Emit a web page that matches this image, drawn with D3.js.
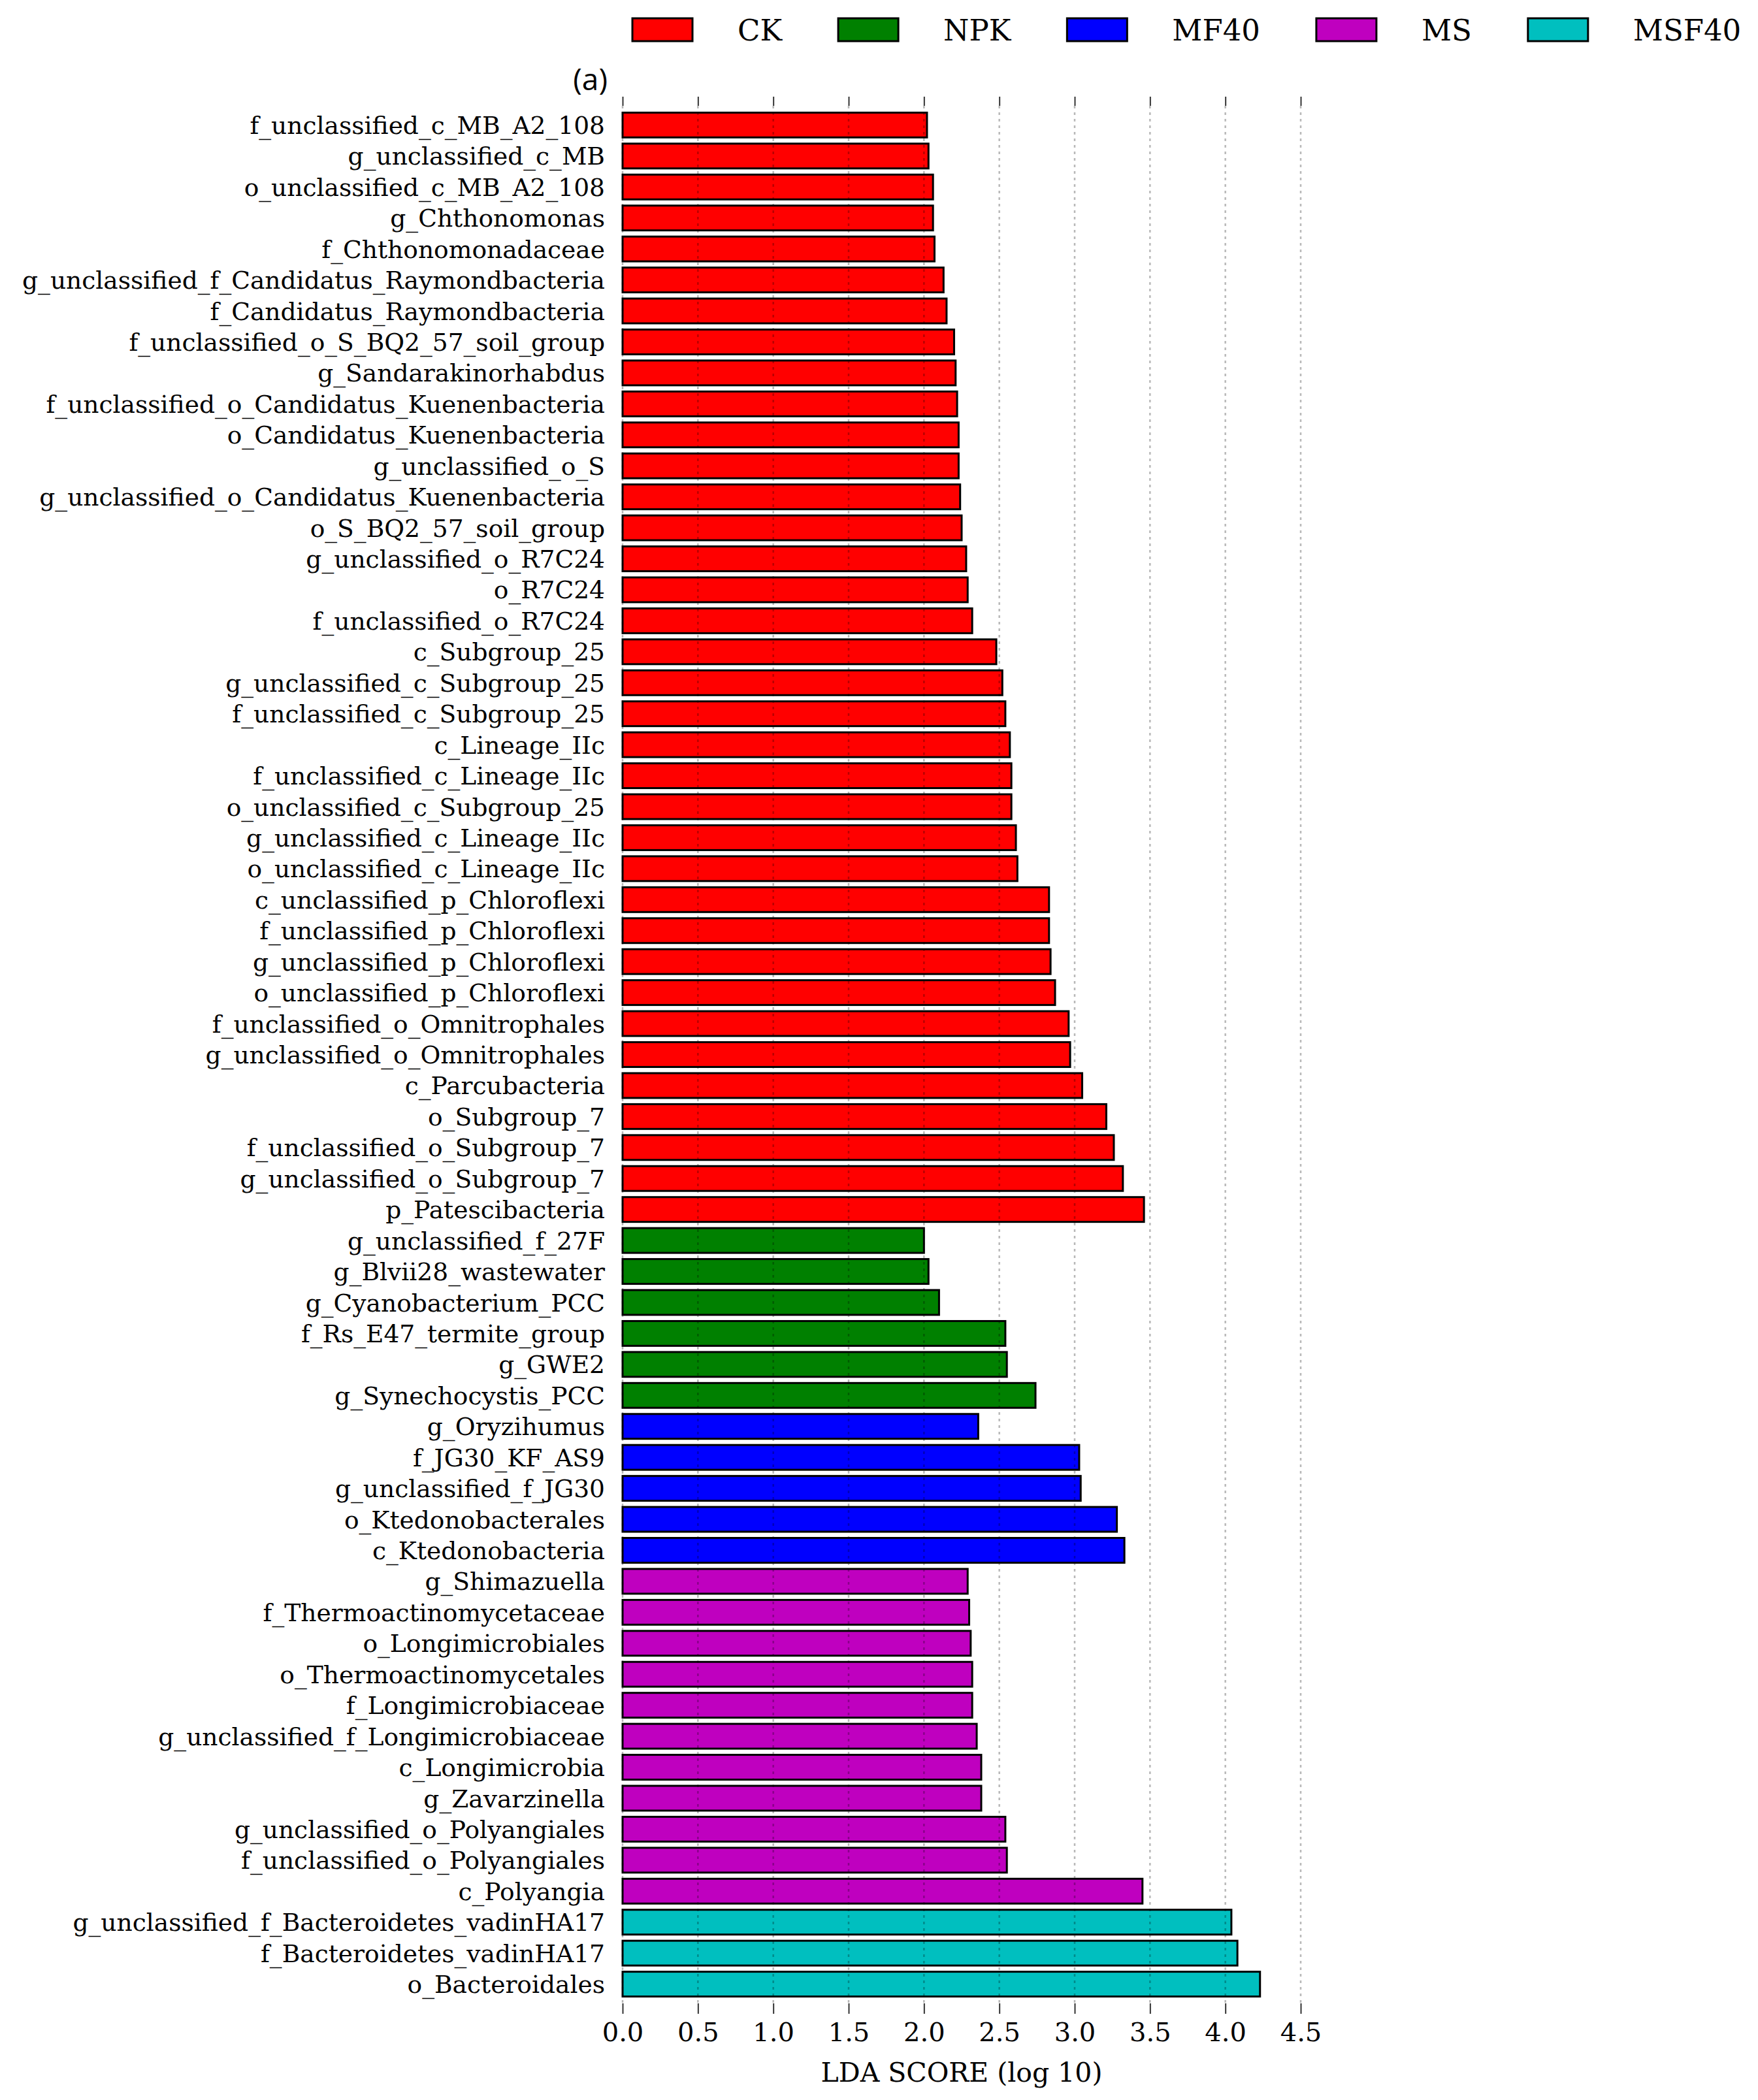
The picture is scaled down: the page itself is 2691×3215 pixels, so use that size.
<!DOCTYPE html>
<html>
<head>
<meta charset="utf-8">
<script src="https://cdn.jsdelivr.net/npm/d3@7"></script>
<style>
  html, body { margin: 0; padding: 0; background: #fff; }
  text { font-family: "DejaVu Serif", serif; fill: #000; }
</style>
</head>
<body>
<div id="chart"></div>
<script>
// LEfSe LDA bar chart, panel (a)

const groupNames = ['CK', 'NPK', 'MF40', 'MS', 'MSF40'];
const groupColors = ['#ff0000', '#008000', '#0000ff', '#bf00bf', '#00bfbf'];

const taxa = [
  'f_unclassified_c_MB_A2_108', 'g_unclassified_c_MB', 'o_unclassified_c_MB_A2_108',
  'g_Chthonomonas', 'f_Chthonomonadaceae', 'g_unclassified_f_Candidatus_Raymondbacteria',
  'f_Candidatus_Raymondbacteria', 'f_unclassified_o_S_BQ2_57_soil_group', 'g_Sandarakinorhabdus',
  'f_unclassified_o_Candidatus_Kuenenbacteria', 'o_Candidatus_Kuenenbacteria', 'g_unclassified_o_S',
  'g_unclassified_o_Candidatus_Kuenenbacteria', 'o_S_BQ2_57_soil_group', 'g_unclassified_o_R7C24',
  'o_R7C24', 'f_unclassified_o_R7C24', 'c_Subgroup_25',
  'g_unclassified_c_Subgroup_25', 'f_unclassified_c_Subgroup_25', 'c_Lineage_IIc',
  'f_unclassified_c_Lineage_IIc', 'o_unclassified_c_Subgroup_25', 'g_unclassified_c_Lineage_IIc',
  'o_unclassified_c_Lineage_IIc', 'c_unclassified_p_Chloroflexi', 'f_unclassified_p_Chloroflexi',
  'g_unclassified_p_Chloroflexi', 'o_unclassified_p_Chloroflexi', 'f_unclassified_o_Omnitrophales',
  'g_unclassified_o_Omnitrophales', 'c_Parcubacteria', 'o_Subgroup_7',
  'f_unclassified_o_Subgroup_7', 'g_unclassified_o_Subgroup_7', 'p_Patescibacteria',
  'g_unclassified_f_27F', 'g_Blvii28_wastewater', 'g_Cyanobacterium_PCC',
  'f_Rs_E47_termite_group', 'g_GWE2', 'g_Synechocystis_PCC',
  'g_Oryzihumus', 'f_JG30_KF_AS9', 'g_unclassified_f_JG30',
  'o_Ktedonobacterales', 'c_Ktedonobacteria',
  'g_Shimazuella', 'f_Thermoactinomycetaceae', 'o_Longimicrobiales',
  'o_Thermoactinomycetales', 'f_Longimicrobiaceae', 'g_unclassified_f_Longimicrobiaceae',
  'c_Longimicrobia', 'g_Zavarzinella', 'g_unclassified_o_Polyangiales',
  'f_unclassified_o_Polyangiales', 'c_Polyangia',
  'g_unclassified_f_Bacteroidetes_vadinHA17', 'f_Bacteroidetes_vadinHA17', 'o_Bacteroidales'
];

const ldaScores = [
  2.02, 2.03, 2.06, 2.06, 2.07, 2.13, 2.15, 2.20, 2.21, 2.22, 2.23, 2.23,
  2.24, 2.25, 2.28, 2.29, 2.32, 2.48, 2.52, 2.54, 2.57, 2.58, 2.58, 2.61,
  2.62, 2.83, 2.83, 2.84, 2.87, 2.96, 2.97, 3.05, 3.21, 3.26, 3.32, 3.46,
  2.00, 2.03, 2.10, 2.54, 2.55, 2.74,
  2.36, 3.03, 3.04, 3.28, 3.33,
  2.29, 2.30, 2.31, 2.32, 2.32, 2.35, 2.38, 2.38, 2.54, 2.55, 3.45,
  4.04, 4.08, 4.23
];

const taxaGroup = [
  0, 0, 0, 0, 0, 0, 0, 0, 0, 0, 0, 0, 0, 0, 0, 0, 0, 0,
  0, 0, 0, 0, 0, 0, 0, 0, 0, 0, 0, 0, 0, 0, 0, 0, 0, 0,
  1, 1, 1, 1, 1, 1,
  2, 2, 2, 2, 2,
  3, 3, 3, 3, 3, 3, 3, 3, 3, 3, 3,
  4, 4, 4
];

const xTicks = [0, 0.5, 1, 1.5, 2, 2.5, 3, 3.5, 4, 4.5];

const width = 2691, height = 3215;
const plot = { left: 953, right: 1991, top: 162, bottom: 3067 };

const svg = d3.select('#chart').append('svg')
  .attr('width', width)
  .attr('height', height)
  .style('display', 'block');

svg.append('rect').attr('width', width).attr('height', height).attr('fill', '#fff');

const x = d3.scaleLinear().domain([0, 4.5]).range([plot.left, plot.right]);
const y = d3.scaleBand()
  .domain(taxa)
  .range([plot.top, plot.bottom])
  .paddingInner(0.2)
  .paddingOuter(0.22);

const rows = taxa.map((t, i) => ({ name: t, value: ldaScores[i], group: taxaGroup[i] }));

// bars
svg.append('g').selectAll('rect')
  .data(rows)
  .join('rect')
  .attr('x', x(0))
  .attr('y', d => y(d.name))
  .attr('width', d => x(d.value) - x(0))
  .attr('height', y.bandwidth())
  .attr('fill', d => groupColors[d.group])
  .attr('stroke', '#000')
  .attr('stroke-width', 3);

// dashed grid over the bars
svg.append('g').selectAll('line')
  .data(xTicks)
  .join('line')
  .attr('x1', d => x(d)).attr('x2', d => x(d))
  .attr('y1', plot.top).attr('y2', plot.bottom)
  .attr('stroke', '#000')
  .attr('stroke-opacity', 0.28)
  .attr('stroke-width', 2.5)
  .attr('stroke-dasharray', '4,6');

// row labels
svg.append('g').selectAll('text')
  .data(rows)
  .join('text')
  .attr('x', plot.left - 27)
  .attr('y', d => y(d.name) + y.bandwidth() / 2)
  .attr('dy', '0.36em')
  .attr('text-anchor', 'end')
  .style('font-size', '37.6px')
  .text(d => d.name);

// axes
const bottomAxis = svg.append('g')
  .attr('transform', `translate(0,${plot.bottom})`)
  .call(d3.axisBottom(x).tickValues(xTicks).tickFormat(d3.format('.1f')).tickSize(16).tickPadding(14));
bottomAxis.select('.domain').remove();
bottomAxis.selectAll('line').attr('stroke', '#333').attr('stroke-width', 2);
bottomAxis.selectAll('text')
  .style('font-family', '"DejaVu Serif", serif')
  .style('font-size', '40px')
  .attr('fill', '#000');

const topAxis = svg.append('g')
  .attr('transform', `translate(0,${plot.top})`)
  .call(d3.axisTop(x).tickValues(xTicks).tickFormat('').tickSize(14));
topAxis.select('.domain').remove();
topAxis.selectAll('line').attr('stroke', '#333').attr('stroke-width', 2);

svg.append('text')
  .attr('x', (plot.left + plot.right) / 2)
  .attr('y', 3187)
  .attr('text-anchor', 'middle')
  .style('font-size', '41px')
  .text('LDA SCORE (log 10)');

svg.append('text')
  .attr('x', 930)
  .attr('y', 138)
  .attr('text-anchor', 'end')
  .style('font-family', '"Open Sans", sans-serif')
  .style('font-size', '46px')
  .text('(a)');

// legend
const legend = svg.append('g');
let lx = 968;
groupNames.forEach((g, i) => {
  legend.append('rect')
    .attr('x', lx).attr('y', 28)
    .attr('width', 92).attr('height', 35)
    .attr('fill', groupColors[i])
    .attr('stroke', '#000')
    .attr('stroke-width', 3);
  const t = legend.append('text')
    .attr('x', lx + 161)
    .attr('y', 46)
    .attr('dy', '0.36em')
    .style('font-size', '45px')
    .text(g);
  lx += 161 + t.node().getComputedTextLength() + 86;
});
</script>
</body>
</html>
